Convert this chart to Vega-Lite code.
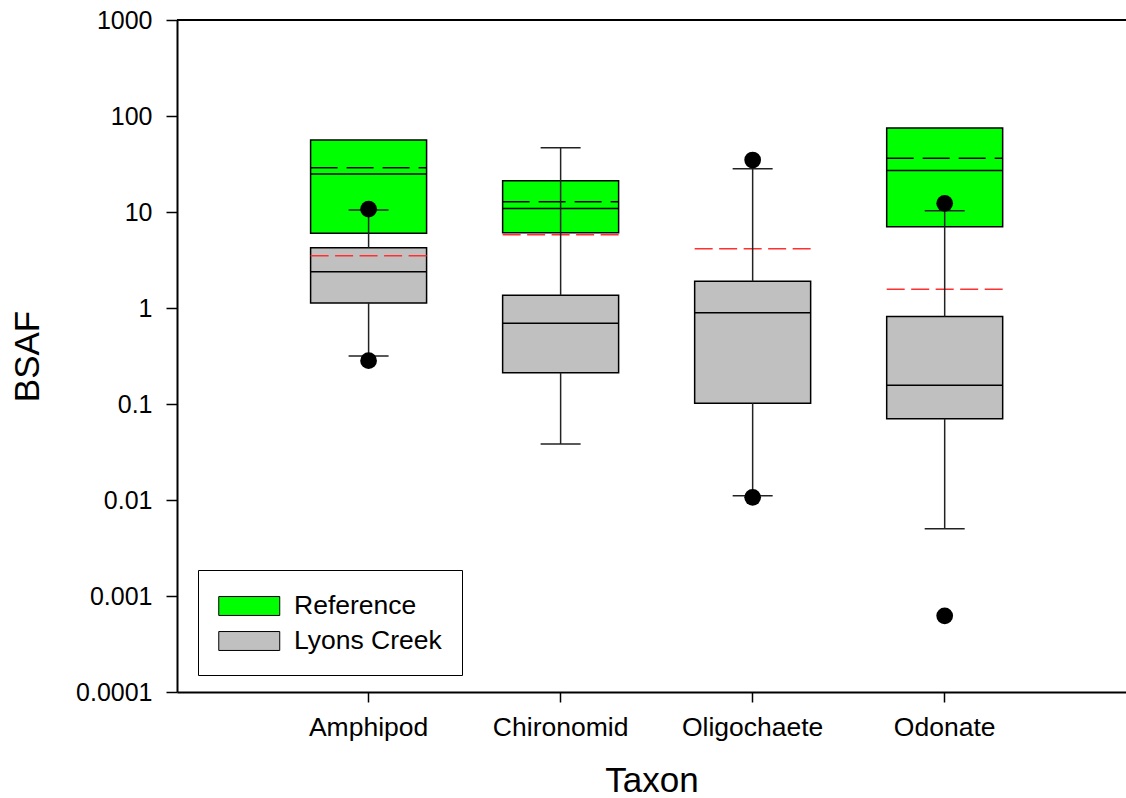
{
  "$schema": "https://vega.github.io/schema/vega-lite/v6.json",
  "autosize": {"type": "none"},
  "width": 949,
  "height": 672,
  "padding": {"left": 177, "top": 20, "right": 0, "bottom": 106},
  "background": "white",
  "config": {
    "view": {"stroke": null},
    "font": "Liberation Sans",
    "axis": {"labelFont": "Liberation Sans", "titleFont": "Liberation Sans", "labelColor": "black", "titleColor": "black", "domainColor": "black", "tickColor": "black", "grid": false, "titleFontWeight": "normal"}
  },
  "datasets": {
    "boxes": [
      {"taxon": "Amphipod", "group": "Reference", "q1": 6.0, "median": 24.9, "q3": 56.2, "mean": 28.9},
      {"taxon": "Chironomid", "group": "Reference", "q1": 6.08, "median": 10.9, "q3": 21.2, "mean": 12.8},
      {"taxon": "Odonate", "group": "Reference", "q1": 7.03, "median": 27.0, "q3": 75.2, "mean": 36.3},
      {"taxon": "Amphipod", "group": "Lyons Creek", "q1": 1.13, "median": 2.39, "q3": 4.25, "mean": 3.5, "lo": 0.316, "hi": 10.5},
      {"taxon": "Chironomid", "group": "Lyons Creek", "q1": 0.212, "median": 0.693, "q3": 1.36, "mean": 5.8, "lo": 0.0383, "hi": 46.8},
      {"taxon": "Oligochaete", "group": "Lyons Creek", "q1": 0.1016, "median": 0.893, "q3": 1.9, "mean": 4.15, "lo": 0.0111, "hi": 28.3},
      {"taxon": "Odonate", "group": "Lyons Creek", "q1": 0.0703, "median": 0.157, "q3": 0.815, "mean": 1.57, "lo": 0.00501, "hi": 10.3}
    ],
    "outliers": [
      {"taxon": "Amphipod", "value": 10.7},
      {"taxon": "Amphipod", "value": 0.283},
      {"taxon": "Oligochaete", "value": 34.8},
      {"taxon": "Oligochaete", "value": 0.01067},
      {"taxon": "Odonate", "value": 12.3},
      {"taxon": "Odonate", "value": 0.000622}
    ]
  },
  "data": {"name": "boxes"},
  "layer": [
    {
      "mark": {"type": "bar", "stroke": "black", "strokeWidth": 1.5, "opacity": 1},
      "encoding": {
        "x": {
          "field": "taxon", "type": "nominal",
          "scale": {"type": "band", "domain": ["Amphipod", "Chironomid", "Oligochaete", "Odonate"], "paddingInner": 0.396, "paddingOuter": 0.669, "align": 0.52},
          "axis": {"title": "Taxon", "labelAngle": 0, "bandPosition": 0.5, "domainWidth": 2, "tickWidth": 1.5, "tickSize": 10, "labelFontSize": 26.5, "labelPadding": 12, "titleFontSize": 35, "titlePadding": 23}
        },
        "y": {
          "field": "q1", "type": "quantitative",
          "scale": {"type": "log", "domain": [0.0001, 1000], "nice": false},
          "axis": {"title": "BSAF", "values": [0.0001, 0.001, 0.01, 0.1, 1, 10, 100, 1000], "format": "~g", "domainWidth": 2, "tickWidth": 1.5, "tickSize": 11, "labelFontSize": 25, "labelPadding": 14, "titleFontSize": 35, "titlePadding": 30}
        },
        "y2": {"field": "q3"},
        "color": {
          "field": "group", "type": "nominal",
          "scale": {"domain": ["Reference", "Lyons Creek"], "range": ["#00ff00", "#c0c0c0"]},
          "legend": {"orient": "none", "legendX": 21, "legendY": 550, "title": null, "symbolType": "M-1,-0.62H3V0.62H-1Z", "symbolSize": 930, "symbolStrokeColor": "black", "symbolStrokeWidth": 1, "symbolOpacity": 1, "labelFont": "Liberation Sans", "labelFontSize": 26.5, "labelColor": "black", "labelOffset": 44, "labelLimit": 300, "rowPadding": 5, "padding": 20, "strokeColor": "black", "fillColor": "white"}
        }
      }
    },
    {
      "mark": {"type": "tick", "color": "black", "size": 116, "thickness": 1.5, "opacity": 1},
      "encoding": {"x": {"field": "taxon", "type": "nominal"}, "y": {"field": "median", "type": "quantitative"}}
    },
    {
      "transform": [{"filter": "datum.group == 'Reference'"}],
      "mark": {"type": "rule", "color": "black", "strokeWidth": 1.5, "strokeDash": [27, 9], "xOffset": -58, "x2Offset": 58},
      "encoding": {"x": {"field": "taxon", "type": "nominal"}, "x2": {"field": "taxon"}, "y": {"field": "mean", "type": "quantitative"}}
    },
    {
      "transform": [{"filter": "datum.group == 'Lyons Creek'"}],
      "mark": {"type": "rule", "color": "#ff3030", "strokeWidth": 1.5, "strokeDash": [18, 6.5], "xOffset": -58, "x2Offset": 58},
      "encoding": {"x": {"field": "taxon", "type": "nominal"}, "x2": {"field": "taxon"}, "y": {"field": "mean", "type": "quantitative"}}
    },
    {
      "transform": [{"filter": "datum.group == 'Lyons Creek'"}],
      "mark": {"type": "rule", "color": "#222222", "strokeWidth": 1.5},
      "encoding": {"x": {"field": "taxon", "type": "nominal"}, "y": {"field": "lo", "type": "quantitative"}, "y2": {"field": "q1"}}
    },
    {
      "transform": [{"filter": "datum.group == 'Lyons Creek'"}],
      "mark": {"type": "rule", "color": "#222222", "strokeWidth": 1.5},
      "encoding": {"x": {"field": "taxon", "type": "nominal"}, "y": {"field": "q3", "type": "quantitative"}, "y2": {"field": "hi"}}
    },
    {
      "transform": [{"filter": "datum.group == 'Lyons Creek'"}],
      "mark": {"type": "tick", "color": "#222222", "size": 40, "thickness": 1.5, "opacity": 1},
      "encoding": {"x": {"field": "taxon", "type": "nominal"}, "y": {"field": "lo", "type": "quantitative"}}
    },
    {
      "transform": [{"filter": "datum.group == 'Lyons Creek'"}],
      "mark": {"type": "tick", "color": "#222222", "size": 40, "thickness": 1.5, "opacity": 1},
      "encoding": {"x": {"field": "taxon", "type": "nominal"}, "y": {"field": "hi", "type": "quantitative"}}
    },
    {
      "data": {"name": "outliers"},
      "mark": {"type": "circle", "color": "black", "size": 280, "opacity": 1},
      "encoding": {"x": {"field": "taxon", "type": "nominal"}, "y": {"field": "value", "type": "quantitative"}}
    },
    {
      "mark": {"type": "rule", "color": "black", "strokeWidth": 2},
      "encoding": {"y": {"datum": 1000}}
    }
  ]
}
